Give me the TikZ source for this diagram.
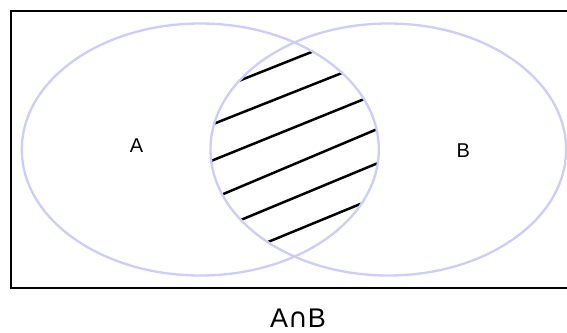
\documentclass[tikz,border=0pt]{standalone}
\usepackage{fontspec}
\setmainfont{Liberation Sans}
\newfontfamily\symfont{DejaVu Sans}
\usetikzlibrary{shapes.geometric}
\definecolor{setline}{RGB}{204,204,255}
\tikzset{
  setshape/.style={ellipse, draw=setline, line width=2.3bp, inner sep=0pt, minimum height=252bp},
  hatch/.style={draw=black, line width=2.5bp},
  frame/.style={draw=black, line width=2.6bp},
  setlabel/.style={inner sep=0pt, anchor=base, font=\fontsize{20bp}{24bp}\selectfont},
  caption/.style={inner sep=0pt, anchor=base, text depth=0pt, font=\fontsize{27bp}{32bp}\selectfont}
}
\begin{document}
\begin{tikzpicture}[x=1bp,y=-1bp]
\useasboundingbox (0,0) rectangle (567,332);
% frame (right side is cut by the picture's edge)
\coordinate (fr1) at (570,10.8);
\coordinate (fr2) at (10.8,10.8);
\coordinate (fr3) at (10.8,288);
\coordinate (fr4) at (570,288);
\draw[frame] (fr1) -- (fr2) -- (fr3) -- (fr4);
% hatching of the intersection
\draw[hatch] (239.3,80.7) -- (313.3,51.3);
\draw[hatch] (214,123.7) -- (342.7,72.7);
\draw[hatch] (211,161) -- (364.3,99);
\draw[hatch] (221.7,194.7) -- (376.7,129.3);
\draw[hatch] (240.7,220) -- (378,163);
\draw[hatch] (268,242) -- (361,203.7);
% sets
\node[setshape, minimum width=357bp] (setA) at (200.3,149.5) {};
\node[setshape, minimum width=355.6bp] (setB) at (388.3,149.5) {};
\node[setlabel] (labA) at (136.5,152.3) {A};
\node[setlabel] (labB) at (463.3,157.5) {B};
\node[caption] (cap) at (298,327) {A{\symfont ∩}B};
\end{tikzpicture}
\end{document}
